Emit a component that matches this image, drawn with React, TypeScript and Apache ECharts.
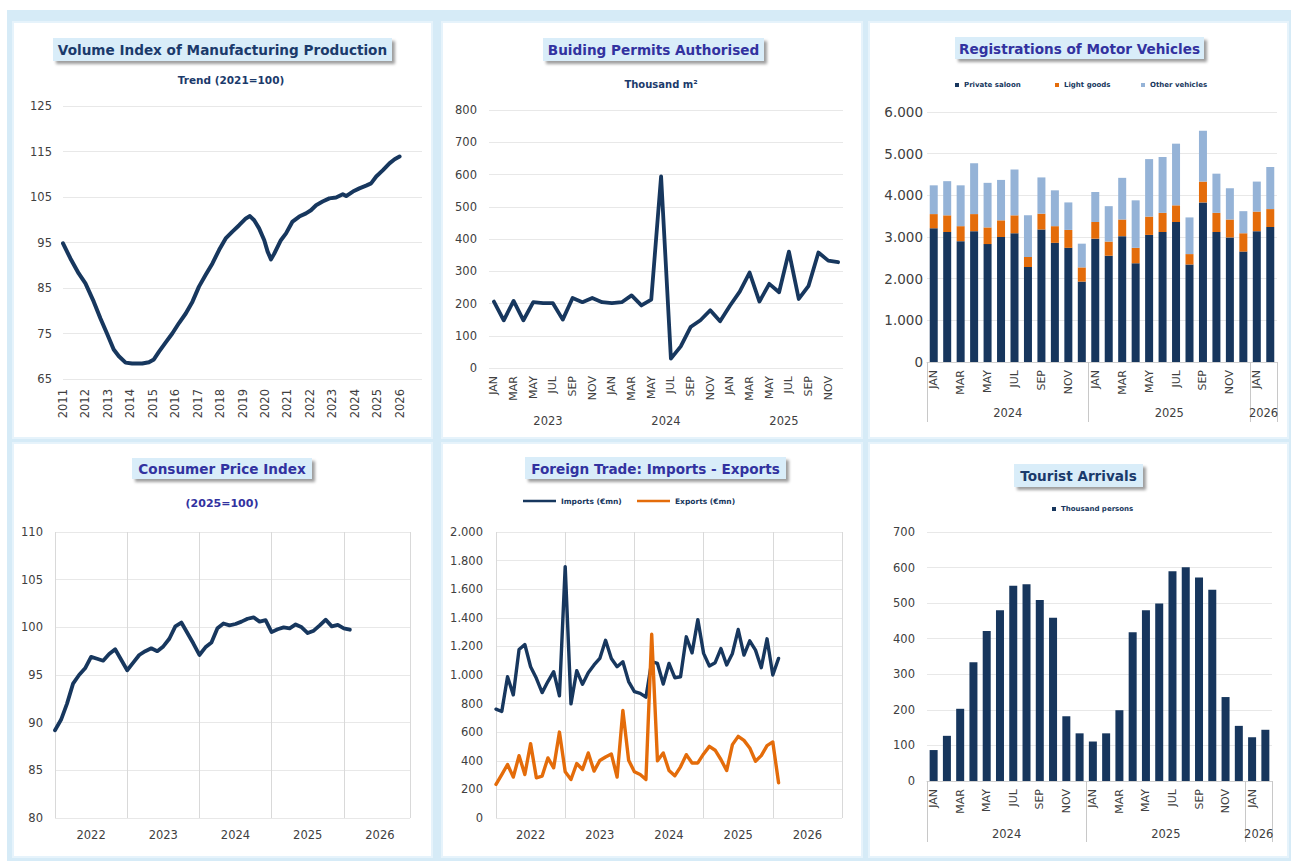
import React, { useEffect, useRef } from 'react';
import * as echarts from 'echarts';

const FONT = 'DejaVu Sans';
const NAVY = '#17375e';
const TITLE_NAVY = '#1b3a6b';
const INDIGO = '#3232a0';
const ORANGE = '#e46c0a';
const LIGHTBLUE = '#95b3d7';
const AXIS_TXT = '#404040';
const GRID_H = '#e8e8e8';
const GRID_V = '#d9d9d9';

const MONTHS = ['JAN', 'FEB', 'MAR', 'APR', 'MAY', 'JUN', 'JUL', 'AUG', 'SEP', 'OCT', 'NOV', 'DEC'];

// ---------- Panel 1: Volume Index of Manufacturing Production (Trend 2021=100)
const mfgTime = [2011.0, 2011.33, 2011.7, 2012.0, 2012.37, 2012.67, 2012.96, 2013.26, 2013.49, 2013.79, 2014.08, 2014.53, 2014.83, 2015.05, 2015.28, 2015.57, 2015.87, 2016.17, 2016.47, 2016.77, 2017.06, 2017.36, 2017.66, 2017.96, 2018.25, 2018.55, 2018.85, 2019.15, 2019.33, 2019.52, 2019.74, 2019.97, 2020.12, 2020.27, 2020.41, 2020.71, 2020.94, 2021.23, 2021.53, 2021.83, 2022.05, 2022.28, 2022.57, 2022.87, 2023.17, 2023.47, 2023.62, 2023.92, 2024.21, 2024.51, 2024.73, 2024.96, 2025.26, 2025.55, 2025.78, 2026.0];
const mfgIndex = [94.8, 91.5, 88.2, 86.0, 82.0, 78.3, 75.0, 71.5, 70.0, 68.6, 68.4, 68.4, 68.7, 69.3, 71.0, 73.0, 75.0, 77.3, 79.4, 82.0, 85.3, 87.9, 90.4, 93.4, 95.9, 97.4, 98.8, 100.3, 100.8, 99.9, 98.1, 95.5, 93.0, 91.3, 92.5, 95.5, 97.0, 99.6, 100.7, 101.4, 102.1, 103.2, 104.0, 104.7, 104.9, 105.6, 105.2, 106.2, 106.9, 107.5, 108.0, 109.5, 110.9, 112.4, 113.3, 113.9];
const mfgYearTicks = { min: 2011, max: 2027 };

// ---------- Panel 2: Building permits (thousand m2), Jan 2023 - Dec 2025
const permitStart = 2023;
const permitValues = [206, 148, 208, 148, 204, 201, 201, 150, 217, 204, 217, 204, 201, 204, 225, 194, 212, 594, 29, 67, 127, 148, 179, 145, 193, 237, 296, 206, 261, 235, 361, 214, 255, 358, 333, 328];

// ---------- Panel 3: Registrations of motor vehicles, Jan 2024 - Feb 2026
const regStart = 2024;
const regPrivate = [3210, 3120, 2900, 3140, 2830, 3000, 3090, 2280, 3180, 2860, 2740, 1930, 2960, 2550, 3020, 2370, 3050, 3120, 3360, 2340, 3830, 3120, 2990, 2650, 3140, 3240];
const regLight = [340, 400, 360, 410, 400, 400, 430, 240, 380, 400, 430, 340, 400, 340, 400, 370, 440, 460, 400, 250, 500, 460, 430, 440, 470, 430];
const regOther = [690, 820, 980, 1220, 1070, 970, 1100, 1000, 870, 860, 660, 570, 720, 850, 1000, 1140, 1380, 1340, 1480, 880, 1220, 940, 750, 530, 720, 1010];

// ---------- Panel 4: CPI (2025=100), Jan 2022 - Feb 2026 (axis to Dec 2026)
const cpiStart = 2022;
const cpiAxisMonths = 60;
const cpiValues = [89.2, 90.3, 92.0, 94.1, 95.0, 95.7, 96.9, 96.7, 96.5, 97.2, 97.7, 96.6, 95.5, 96.3, 97.1, 97.5, 97.8, 97.5, 98.0, 98.8, 100.1, 100.5, 99.4, 98.3, 97.1, 97.9, 98.4, 99.9, 100.4, 100.2, 100.35, 100.6, 100.9, 101.05, 100.6, 100.75, 99.5, 99.8, 100.0, 99.9, 100.3, 100.0, 99.4, 99.65, 100.2, 100.8, 100.1, 100.25, 99.9, 99.75];

// ---------- Panel 5: Foreign trade (EUR mn), Jan 2022 - Feb 2026 (axis to Jan 2027)
const tradeStart = 2022;
const tradeAxisMonths = 61;
const importsValues = [761, 745, 988, 861, 1178, 1213, 1058, 977, 877, 954, 1023, 854, 1758, 798, 1030, 935, 1016, 1070, 1116, 1243, 1116, 1058, 1093, 954, 884, 872, 845, 1093, 1081, 937, 1081, 981, 988, 1267, 1155, 1387, 1151, 1063, 1086, 1185, 1070, 1151, 1318, 1139, 1239, 1174, 1051, 1253, 1000, 1116];
const exportsValues = [235, 304, 374, 286, 436, 304, 520, 281, 293, 420, 351, 601, 323, 269, 381, 339, 455, 328, 402, 427, 448, 286, 752, 404, 323, 304, 269, 1285, 400, 455, 332, 295, 358, 443, 385, 385, 448, 501, 474, 409, 332, 513, 571, 543, 490, 397, 436, 506, 532, 246];

// ---------- Panel 6: Tourist arrivals (thousand persons), Jan 2024 - Feb 2026
const touristStart = 2024;
const touristValues = [87, 127, 203, 334, 422, 480, 549, 553, 509, 459, 182, 134, 111, 134, 199, 418, 480, 499, 590, 601, 572, 538, 236, 155, 123, 144];

// ---------- helpers
function monthCats(startYear: number, count: number) {
  const labels: string[] = [];
  const years: number[] = [];
  const keys: string[] = [];
  for (let i = 0; i < count; i++) {
    const y = startYear + Math.floor(i / 12);
    labels.push(MONTHS[i % 12]);
    years.push(y);
    keys.push(`${y}-${String((i % 12) + 1).padStart(2, '0')}`);
  }
  return { labels, years, keys };
}

function yearGroups(years: number[]) {
  const centers: number[] = [];
  const names: string[] = [];
  const bounds: number[] = [0];
  let start = 0;
  for (let i = 1; i <= years.length; i++) {
    if (i === years.length || years[i] !== years[start]) {
      centers.push((start + i) / 2);
      names.push(String(years[start]));
      bounds.push(i);
      start = i;
    }
  }
  return { centers, names, bounds };
}

const dotFmt = (v: number) =>
  v >= 1000 ? `${Math.floor(v / 1000)}.${String(v % 1000).padStart(3, '0')}` : String(v);

const lbl = (extra: any = {}) => ({ color: AXIS_TXT, fontSize: 11.5, fontFamily: FONT, ...extra });

function titleBox(cx: number, cy: number, w: number, h: number, text: string, color: string, fs: number) {
  return {
    type: 'group',
    z: 50,
    children: [
      {
        type: 'rect',
        z: 50,
        shape: { x: cx - w / 2, y: cy - h / 2, width: w, height: h },
        style: {
          fill: '#d9edf9',
          shadowBlur: 3,
          shadowOffsetX: 3,
          shadowOffsetY: 3,
          shadowColor: 'rgba(0,0,0,0.38)',
        },
      },
      {
        type: 'text',
        z: 51,
        style: {
          text,
          x: cx,
          y: cy + 0.5,
          align: 'center',
          verticalAlign: 'middle',
          fill: color,
          fontSize: fs,
          fontWeight: 'bold',
          fontFamily: FONT,
        },
      },
    ],
  };
}

function subText(cx: number, cy: number, text: string, color: string, fs: number) {
  return {
    type: 'text',
    z: 50,
    style: {
      text,
      x: cx,
      y: cy,
      align: 'center',
      verticalAlign: 'middle',
      fill: color,
      fontSize: fs,
      fontWeight: 'bold',
      fontFamily: FONT,
    },
  };
}

function buildOption() {
  const permit = monthCats(permitStart, permitValues.length);
  const permitY = yearGroups(permit.years);
  const reg = monthCats(regStart, regPrivate.length);
  const regY = yearGroups(reg.years);
  const cpi = monthCats(cpiStart, cpiAxisMonths);
  const trade = monthCats(tradeStart, tradeAxisMonths);
  const tour = monthCats(touristStart, touristValues.length);
  const tourY = yearGroups(tour.years);

  const panels = [
    [13, 22, 419, 416],
    [442, 22, 420, 416],
    [869, 22, 419, 416],
    [13, 443, 419, 414],
    [442, 443, 420, 414],
    [869, 443, 419, 414],
  ];

  const TFS = 13.6;
  const graphic: any[] = [
    { type: 'rect', z: -20, shape: { x: 7, y: 10, width: 1284, height: 851 }, style: { fill: '#d6ebf7' } },
    ...panels.map(([x, y, w, h]) => ({
      type: 'rect',
      z: -19,
      shape: { x, y, width: w, height: h },
      style: { fill: '#ffffff', stroke: '#e6f3fb', lineWidth: 2 },
    })),
    titleBox(222.5, 49.5, 339, 23, 'Volume Index of Manufacturing Production', TITLE_NAVY, TFS),
    titleBox(653.5, 49.5, 221, 23, 'Buiding Permits Authorised', INDIGO, TFS),
    titleBox(1079.5, 48, 249, 22, 'Registrations of Motor Vehicles', INDIGO, TFS),
    titleBox(222, 468.5, 180, 21, 'Consumer Price Index', INDIGO, TFS),
    titleBox(655.5, 468, 261, 22, 'Foreign Trade: Imports - Exports', INDIGO, TFS),
    titleBox(1078.5, 475.5, 129, 23, 'Tourist Arrivals', TITLE_NAVY, TFS),
    subText(231, 80, 'Trend (2021=100)', TITLE_NAVY, 10.5),
    subText(661, 84, 'Thousand m²', TITLE_NAVY, 10),
    subText(222, 503, '(2025=100)', INDIGO, 11),
  ];

  const grid = [
    { left: 63, top: 106, width: 359, height: 273 },
    { left: 489, top: 110, width: 354, height: 258 },
    { left: 927, top: 112, width: 350, height: 250 },
    { left: 55, top: 532, width: 355, height: 286 },
    { left: 496, top: 532, width: 346, height: 286 },
    { left: 927, top: 532, width: 345, height: 249 },
  ].map((g) => ({ ...g, containLabel: false, outerBoundsMode: 'none' }));

  const noLine = { show: false };
  const hSplit = { show: true, lineStyle: { color: GRID_H, width: 1 } };

  const xAxis: any[] = [
    // 0 mfg
    {
      gridIndex: 0, type: 'value', min: mfgYearTicks.min, max: mfgYearTicks.max, interval: 1,
      axisLine: noLine, axisTick: noLine, splitLine: noLine,
      axisLabel: lbl({ rotate: 90, margin: 10, formatter: (v: number) => (v === mfgYearTicks.max ? '' : String(v)) }),
    },
    // 1 permits months
    {
      gridIndex: 1, type: 'category', data: permit.labels, boundaryGap: true,
      axisLine: noLine, axisTick: noLine, splitLine: noLine,
      axisLabel: lbl({ rotate: 90, margin: 8, interval: 1, fontSize: 11 }),
    },
    // 2 permits years
    {
      gridIndex: 1, type: 'value', min: 0, max: permit.labels.length, position: 'bottom',
      axisLine: noLine, axisTick: noLine, splitLine: noLine,
      axisLabel: lbl({
        customValues: permitY.centers, margin: 47,
        formatter: (v: number) => permitY.names[permitY.centers.indexOf(v)] ?? '',
      }),
    },
    // 3 registrations months
    {
      gridIndex: 2, type: 'category', data: reg.labels, boundaryGap: true,
      axisLine: { show: true, lineStyle: { color: '#d0d0d0' } }, axisTick: noLine, splitLine: noLine,
      axisLabel: lbl({ rotate: 90, margin: 8, interval: 1, fontSize: 11 }),
    },
    // 4 registrations years
    {
      gridIndex: 2, type: 'value', min: 0, max: reg.labels.length, position: 'bottom',
      axisLine: noLine, splitLine: noLine,
      axisTick: { show: true, customValues: regY.bounds, length: 60, lineStyle: { color: '#c8c8c8' } },
      axisLabel: lbl({
        customValues: regY.centers, margin: 45,
        formatter: (v: number) => regY.names[regY.centers.indexOf(v)] ?? '',
      }),
    },
    // 5 cpi months
    {
      gridIndex: 3, type: 'category', data: cpi.keys, boundaryGap: false,
      axisLine: noLine, axisTick: noLine,
      splitLine: { show: true, interval: (i: number) => i % 12 === 0 || i === cpiAxisMonths - 1, lineStyle: { color: GRID_V } },
      axisLabel: lbl({ margin: 11, interval: (i: number) => i % 12 === 6, formatter: (v: string) => v.slice(0, 4) }),
    },
    // 6 trade months
    {
      gridIndex: 4, type: 'category', data: trade.keys, boundaryGap: false,
      axisLine: noLine, axisTick: noLine,
      splitLine: { show: true, interval: (i: number) => i % 12 === 0 || i === tradeAxisMonths - 1, lineStyle: { color: GRID_V } },
      axisLabel: lbl({ margin: 11, interval: (i: number) => i % 12 === 6, formatter: (v: string) => v.slice(0, 4) }),
    },
    // 7 tourist months
    {
      gridIndex: 5, type: 'category', data: tour.labels, boundaryGap: true,
      axisLine: { show: true, lineStyle: { color: '#d0d0d0' } }, axisTick: noLine, splitLine: noLine,
      axisLabel: lbl({ rotate: 90, margin: 8, interval: 1, fontSize: 11 }),
    },
    // 8 tourist years
    {
      gridIndex: 5, type: 'value', min: 0, max: tour.labels.length, position: 'bottom',
      axisLine: noLine, splitLine: noLine,
      axisTick: { show: true, customValues: tourY.bounds, length: 61, lineStyle: { color: '#c8c8c8' } },
      axisLabel: lbl({
        customValues: tourY.centers, margin: 47,
        formatter: (v: number) => tourY.names[tourY.centers.indexOf(v)] ?? '',
      }),
    },
  ];

  const yAxis: any[] = [
    { gridIndex: 0, type: 'value', min: 65, max: 125, interval: 10, axisLine: noLine, axisTick: noLine, splitLine: hSplit, axisLabel: lbl({ margin: 11 }) },
    { gridIndex: 1, type: 'value', min: 0, max: 800, interval: 100, axisLine: noLine, axisTick: noLine, splitLine: hSplit, axisLabel: lbl({ margin: 12 }) },
    { gridIndex: 2, type: 'value', min: 0, max: 6000, interval: 1000, axisLine: noLine, axisTick: noLine, splitLine: hSplit, axisLabel: lbl({ margin: 4, fontSize: 13.5, formatter: dotFmt }) },
    { gridIndex: 3, type: 'value', min: 80, max: 110, interval: 5, axisLine: noLine, axisTick: noLine, splitLine: hSplit, axisLabel: lbl({ margin: 12 }) },
    { gridIndex: 4, type: 'value', min: 0, max: 2000, interval: 200, axisLine: noLine, axisTick: noLine, splitLine: hSplit, axisLabel: lbl({ margin: 13, formatter: dotFmt }) },
    { gridIndex: 5, type: 'value', min: 0, max: 700, interval: 100, axisLine: noLine, axisTick: noLine, splitLine: hSplit, axisLabel: lbl({ margin: 12 }) },
  ];

  const navyLine = (w: number) => ({ color: NAVY, width: w, cap: 'round', join: 'round' });

  const series: any[] = [
    {
      type: 'line', name: 'Manufacturing', xAxisIndex: 0, yAxisIndex: 0, symbol: 'none',
      data: mfgTime.map((t, i) => [t, mfgIndex[i]]), lineStyle: navyLine(4), itemStyle: { color: NAVY },
    },
    {
      type: 'line', name: 'Permits', xAxisIndex: 1, yAxisIndex: 1, symbol: 'none',
      data: permitValues, lineStyle: navyLine(3.8), itemStyle: { color: NAVY },
    },
    {
      type: 'bar', name: 'Private saloon', xAxisIndex: 3, yAxisIndex: 2, stack: 'reg', barWidth: 8,
      data: regPrivate, itemStyle: { color: '#17365d' },
    },
    {
      type: 'bar', name: 'Light goods', xAxisIndex: 3, yAxisIndex: 2, stack: 'reg', barWidth: 8,
      data: regLight, itemStyle: { color: ORANGE },
    },
    {
      type: 'bar', name: 'Other vehicles', xAxisIndex: 3, yAxisIndex: 2, stack: 'reg', barWidth: 8,
      data: regOther, itemStyle: { color: LIGHTBLUE },
    },
    {
      type: 'line', name: 'CPI', xAxisIndex: 5, yAxisIndex: 3, symbol: 'none',
      data: cpiValues, lineStyle: navyLine(3.8), itemStyle: { color: NAVY },
    },
    {
      type: 'line', name: 'Imports (€mn)', xAxisIndex: 6, yAxisIndex: 4, symbol: 'none',
      data: importsValues, lineStyle: navyLine(3.4), itemStyle: { color: NAVY },
    },
    {
      type: 'line', name: 'Exports (€mn)', xAxisIndex: 6, yAxisIndex: 4, symbol: 'none',
      data: exportsValues, lineStyle: { color: ORANGE, width: 3.4, cap: 'round', join: 'round' }, itemStyle: { color: ORANGE },
    },
    {
      type: 'bar', name: 'Thousand persons', xAxisIndex: 7, yAxisIndex: 5, barWidth: 8,
      data: touristValues, itemStyle: { color: '#17365d' },
    },
  ];

  const legText = { fontSize: 7, fontWeight: 'bold', color: NAVY, fontFamily: FONT };
  const sq = { padding: 0, itemWidth: 4, itemHeight: 4, icon: 'rect', selectedMode: false, textStyle: legText };
  const ln = { padding: 0, itemWidth: 33, itemHeight: 2.5, icon: 'rect', selectedMode: false, textStyle: { ...legText, fontSize: 7.5 } };

  const legend = [
    { ...sq, data: ['Private saloon'], left: 955, top: 81.5 },
    { ...sq, data: ['Light goods'], left: 1055, top: 81.5 },
    { ...sq, data: ['Other vehicles'], left: 1141, top: 81.5 },
    { ...ln, data: ['Imports (€mn)'], left: 523, top: 497 },
    { ...ln, data: ['Exports (€mn)'], left: 637, top: 497 },
    { ...sq, data: ['Thousand persons'], left: 1052, top: 505.5 },
  ];

  return {
    animation: false,
    backgroundColor: '#ffffff',
    textStyle: { fontFamily: FONT },
    graphic,
    grid,
    xAxis,
    yAxis,
    series,
    legend,
  };
}

export default function App() {
  const ref = useRef<HTMLDivElement>(null);
  useEffect(() => {
    if (!ref.current) return;
    const chart = echarts.init(ref.current, null, { renderer: 'svg', width: 1296, height: 861 });
    chart.setOption(buildOption() as any);
    return () => chart.dispose();
  }, []);
  return <div ref={ref} style={{ position: 'fixed', left: 0, top: 0, width: 1296, height: 861 }} />;
}
